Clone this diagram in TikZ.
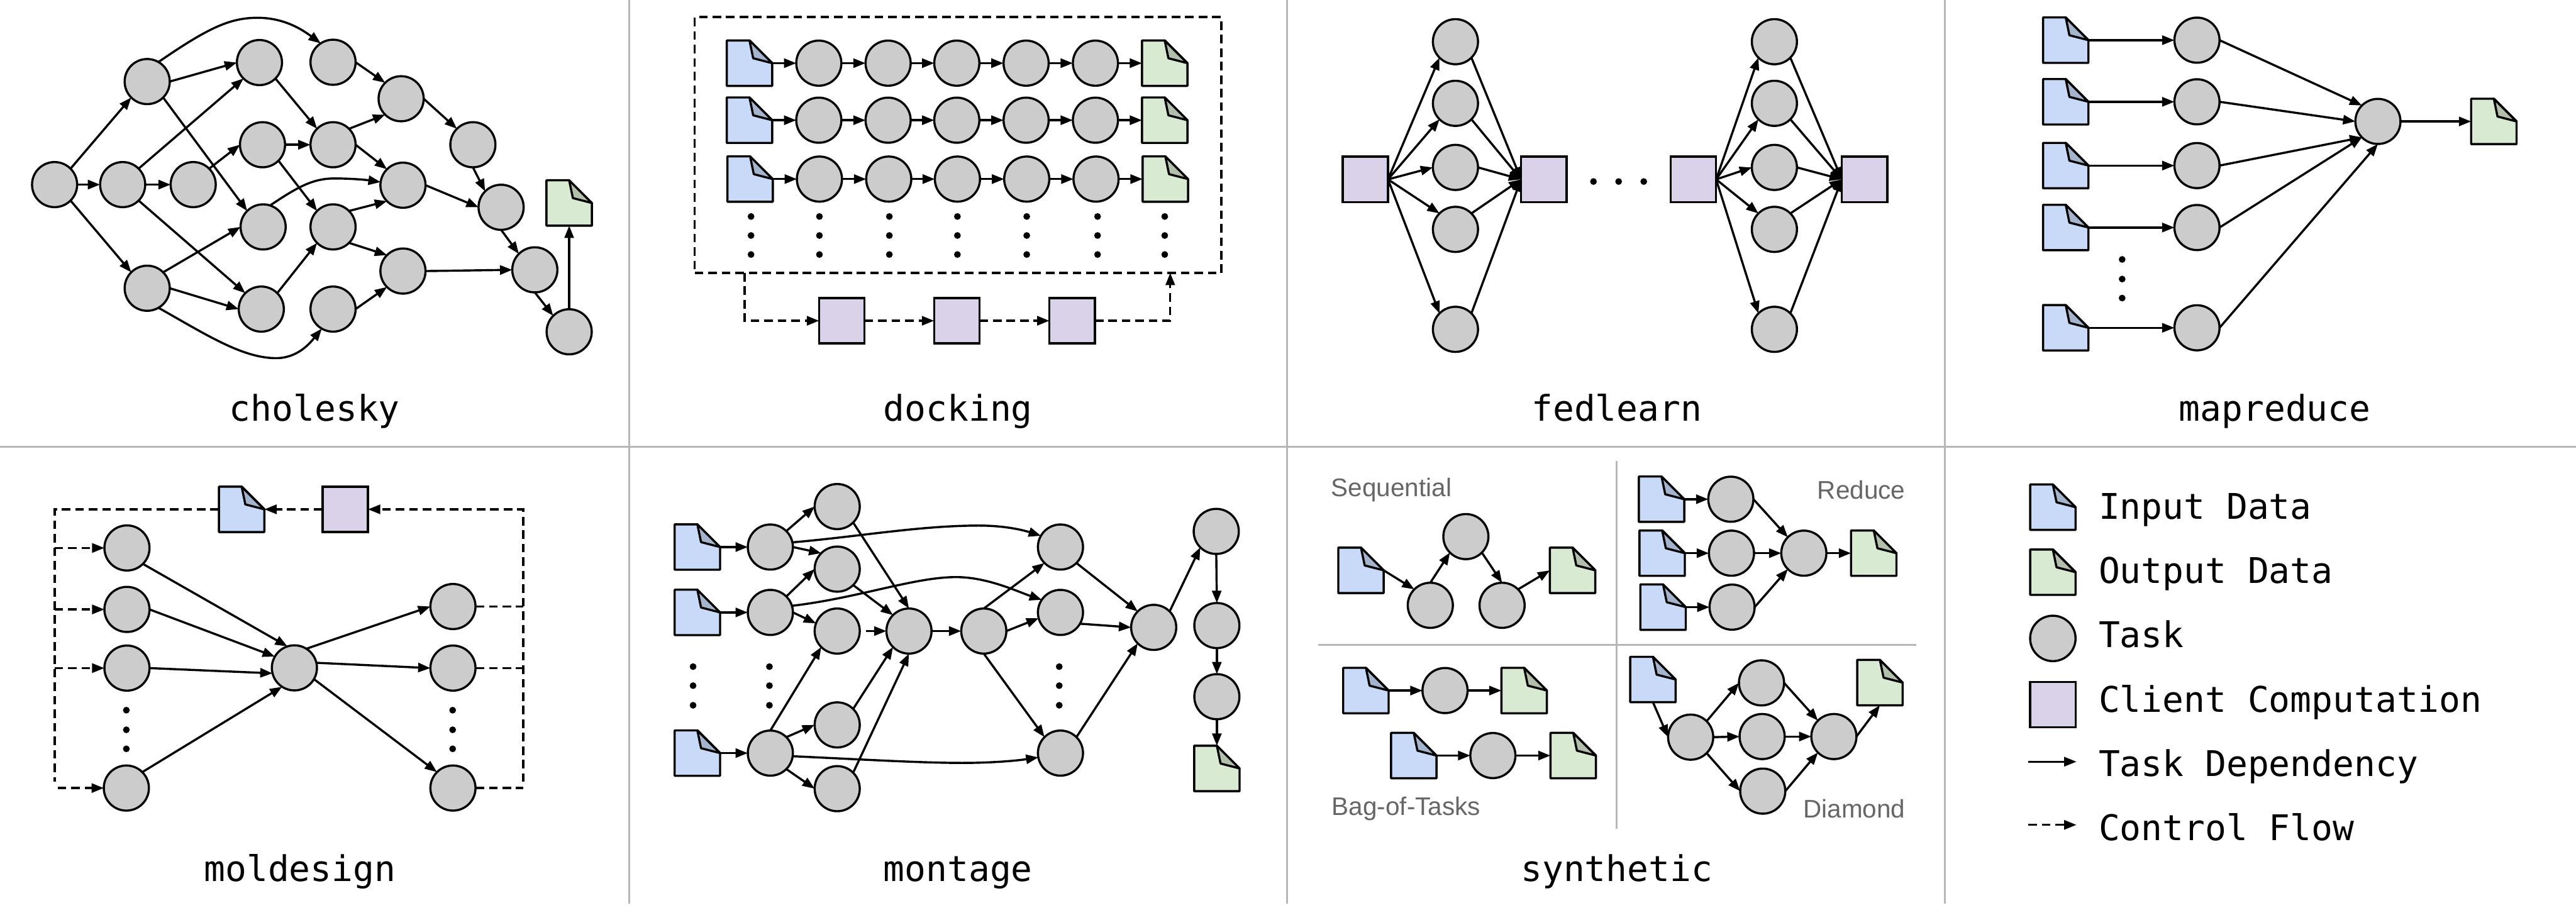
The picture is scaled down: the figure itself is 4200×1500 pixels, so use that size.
\documentclass[tikz,border=0pt]{standalone}
\usepackage{fontspec}
\usetikzlibrary{arrows.meta}
\newfontfamily\monofam{DejaVu Sans Mono}
\newfontfamily\labelfam{Liberation Sans}
\definecolor{inblue}{HTML}{C9DAF8}
\definecolor{infold}{HTML}{A4B4CD}
\definecolor{outgreen}{HTML}{D9EAD3}
\definecolor{outfold}{HTML}{B1BFAB}
\definecolor{taskgrey}{HTML}{CCCCCC}
\definecolor{clientpurple}{HTML}{D9D2E9}
\definecolor{panelgrey}{HTML}{B7B7B7}
\definecolor{labelgrey}{HTML}{666666}
\tikzset{
  task/.style={circle,draw=black,fill=taskgrey,line width=0.035cm,minimum size=0.735cm,inner sep=0pt,outer sep=0pt},
  client/.style={rectangle,draw=black,fill=clientpurple,line width=0.035cm,minimum width=0.74cm,minimum height=0.74cm,inner sep=0pt,outer sep=0pt},
  docbox/.style={rectangle,minimum width=0.74cm,minimum height=0.74cm,inner sep=0pt,outer sep=0pt},
  dep/.style={draw=black,line width=0.035cm,-{Triangle[length=0.2cm,width=0.15cm]}},
  ctlline/.style={draw=black,line width=0.035cm,dash pattern=on 0.14cm off 0.08cm},
  ctl/.style={ctlline,-{Triangle[length=0.2cm,width=0.15cm]}},
  paneltitle/.style={font=\monofam\fontsize{16.4}{18}\selectfont,anchor=base,inner sep=0pt},
  legendtext/.style={font=\monofam\fontsize{16.4}{18}\selectfont,anchor=base west,inner sep=0pt},
  sublabel/.style={font=\labelfam\fontsize{11.8}{13}\selectfont,text=labelgrey,inner sep=0pt},
  panelline/.style={draw=panelgrey,line width=0.03cm},
  wfdot/.style={fill=black}
}
\newcommand\wfdoc[5]{%
  \node[docbox] (#1) at (#2,#3) {};
  \draw[line width=0.035cm,line join=round,fill=#4] (#1.north west) -- (#1.north) -- (#1.east) -- (#1.south east) -- (#1.south west) -- cycle;
  \draw[line width=0.035cm,line join=round,fill=#5] (#1.north) -- ([shift={(6,-8)}]#1.center) -- (#1.east) -- cycle;
}
\newcommand\indoc[3]{\wfdoc{#1}{#2}{#3}{inblue}{infold}}
\newcommand\outdoc[3]{\wfdoc{#1}{#2}{#3}{outgreen}{outfold}}
\begin{document}
\begin{tikzpicture}[x=0.01cm,y=-0.01cm]
\useasboundingbox (0,0) rectangle (4200,1500);
\fill[white] (0,0) rectangle (4200,1500);
% panel rules
\draw[panelline] (0,729) -- (4200,729);
\foreach \x in {1026,2098,3171} \draw[panelline] (\x,0) -- (\x,1473);

% ---------- cholesky
\foreach \n/\x/\y in {c1/89/301,c2/200/301,c3/315/301,ca/240/133,cb/240/470,
  d1/423/102,d2/428/236,d3/429/370,d4/426/504,
  e1/543/101.5,e2/543/236,e3/543/370,e4/543/504,
  f1/654/161,f2/657/302,f3/657/442,g/771/236,h/817/338,i/872/440,j/928/541}
  \node[task] (\n) at (\x,\y) {};
\outdoc{cout}{928}{331}
\foreach \s/\t in {c1.45/ca.225,c1.0/c2.180,c1.-45/cb.135,c2.0/c3.180,c2.45/d1.225,c2.-45/d4.135,
  c3.45/d2.180,ca.0/d1.180,ca.-45/d3.135,cb.0/d4.180,cb.45/d3.180,
  d1.-45/e2.135,d2.0/e2.180,d2.-45/e3.135,d4.45/e3.-135,
  e1.0/f1.135,e2.45/f1.-135,e2.0/f2.135,e3.45/f2.-135,e3.-45/f3.135,e4.0/f3.-135,
  f1.0/g.135,f2.0/h.180,f3.0/i.180,g.-90/h.135,h.-90/i.135,i.-90/j.135,j.90/cout.south}
  \draw[dep] (\s) -- (\t);
\draw[dep] (ca.60) .. controls (340,45) and (375,29) .. (420,29) .. controls (465,29) and (495,50) .. (e1.123);
\draw[dep] (cb.-60) .. controls (335,545) and (395,584) .. (450,584) .. controls (485,584) and (505,560) .. (e4.-120);
\draw[dep] (d3.72) .. controls (485,305) and (510,291) .. (545,291) .. controls (570,291) and (595,293) .. (f2.172);
\node[paneltitle] (tchol) at (513,687) {cholesky};

% ---------- docking
\node[draw=black,ctlline,minimum width=8.58cm,minimum height=4.17cm,inner sep=0pt,outer sep=0pt] (dkframe) at (1562,236.5) {};
\foreach \r/\y/\o in {1/103/0,2/196/0,3/292/1}{
  \indoc{dki\r}{1222+\o}{\y}
  \outdoc{dko\r}{1899+\o}{\y}
  \foreach \c/\x in {1/1335,2/1448,3/1560,4/1673,5/1786}
    \node[task] (dk\r t\c) at (\x+\o,\y) {};
  \draw[dep] (dki\r.east) -- (dk\r t1.west);
  \foreach \a/\b in {1/2,2/3,3/4,4/5} \draw[dep] (dk\r t\a.east) -- (dk\r t\b.west);
  \draw[dep] (dk\r t5.east) -- (dko\r.west);
}
\foreach \x in {1224.5,1336,1450,1561,1674,1789.5,1899} \foreach \y in {353,384,415}
  \fill[wfdot] (\x,\y) circle[radius=5.5];
\node[client] (dkc1) at (1372.5,523) {};
\node[client] (dkc2) at (1560,523) {};
\node[client] (dkc3) at (1748,523) {};
\coordinate (dka) at (1214,445);
\coordinate (dkb) at (1908,445);
\draw[ctl] (dka) |- (dkc1.west);
\draw[ctl] (dkc1.east) -- (dkc2.west);
\draw[ctl] (dkc2.east) -- (dkc3.west);
\draw[ctl] (dkc3.east) -| (dkb);
\node[paneltitle] (tdock) at (1562,686) {docking};

% ---------- fedlearn
\node[client] (fb1) at (2226,292.5) {};
\node[client] (fb2) at (2517,292.5) {};
\node[client] (fb3) at (2761,292.5) {};
\node[client] (fb4) at (3040,292.5) {};
\foreach \n/\y in {1/68,2/168.5,3/273,4/374,5/537}{
  \node[task] (fl\n) at (2373,\y) {};
  \node[task] (fr\n) at (2893,\y) {};
}
\foreach \x in {2598,2639,2680} \fill[wfdot] (\x,296) circle[radius=5.5];
\foreach \p/\q/\r in {fb1/fb2/fl,fb3/fb4/fr}{
  \draw[dep] (\p.east) -- (\r1.-135);
  \draw[dep] (\p.east) -- (\r2.-135);
  \draw[dep] (\p.east) -- (\r3.180);
  \draw[dep] (\p.east) -- (\r4.135);
  \draw[dep] (\p.east) -- (\r5.135);
  \draw[dep] (\r1.-45) -- (\q.west);
  \draw[dep] (\r2.-45) -- (\q.west);
  \draw[dep] (\r3.0) -- (\q.west);
  \draw[dep] (\r4.45) -- (\q.west);
  \draw[dep] (\r5.45) -- (\q.west);
}
\node[paneltitle] (tfed) at (2636,686) {fedlearn};

% ---------- mapreduce
\foreach \n/\y in {1/65.5,2/166,3/270,4/371,5/534.5}{
  \indoc{mi\n}{3368}{\y}
  \node[task] (mt\n) at (3582,\y) {};
  \draw[dep] (mi\n.east) -- (mt\n.west);
}
\node[task] (msink) at (3877,198) {};
\outdoc{mout}{4066}{198}
\foreach \y in {423,455,486} \fill[wfdot] (3460,\y) circle[radius=5.5];
\foreach \s/\t in {mt1.0/msink.135,mt2.0/msink.180,mt3.0/msink.-135,mt4.0/msink.-135,mt5.0/msink.-90,msink.0/mout.west}
  \draw[dep] (\s) -- (\t);
\node[paneltitle] (tmap) at (3709,686) {mapreduce};

% ---------- moldesign
\indoc{ldoc}{394}{830.5}
\node[client] (lbox) at (563,830.5) {};
\foreach \n/\x/\y in {lt1/207/893.5,lt2/207/993.7,lt3/207/1089.4,lt4/206/1285,lc/480/1089,lr1/738.5/989,lr2/738.5/1089.4,lr3/738.5/1285}
  \node[task] (\n) at (\x,\y) {};
\foreach \x in {206,738} \foreach \y in {1158,1190,1221} \fill[wfdot] (\x,\y) circle[radius=5.5];
\coordinate (lbusl) at (89,830.5);
\coordinate (lbusle) at (89,1275);
\coordinate (lbusr) at (853,830.5);
\coordinate (lbusre) at (853,1275);
\coordinate (lstart) at (94,1285);
\draw[ctlline] (ldoc.west) -- (lbusl) -- (lbusle);
\draw[ctl] (lbusre) -- (lbusr) -- (lbox.east);
\draw[ctl] (lbox.west) -- (ldoc.east);
\foreach \n in {lt1,lt2,lt3} \draw[ctl] (lbusl |- \n.west) -- (\n.west);
\draw[ctl] (lstart) -- (lt4.west);
\foreach \n in {lr1,lr2,lr3} \draw[ctlline] (\n.east) -- (lbusr |- \n.east);
\foreach \s/\t in {lt1.-45/lc.108,lt2.0/lc.150,lt3.0/lc.194,lt4.45/lc.237,lc.58/lr1.180,lc.13/lr2.180,lc.-30/lr3.135}
  \draw[dep] (\s) -- (\t);
\node[paneltitle] (tmol) at (489,1437) {moldesign};

% ---------- montage
\foreach \n/\y in {a/892,b/998.6,c/1228}{
  \indoc{oi\n}{1137}{\y}
  \node[task] (o2\n) at (1256,\y) {};
  \node[task] (o5\n) at (1729,\y) {};
  \draw[dep] (oi\n.east) -- (o2\n.west);
}
\foreach \n/\y in {a/826,b/928,c/1029,d/1182,e/1286} \node[task] (o3\n) at (1365,\y) {};
\node[task] (omid) at (1482,1029) {};
\node[task] (onext) at (1604,1029) {};
\node[task] (ofin) at (1881,1023) {};
\node[task] (o7a) at (1983,866.5) {};
\node[task] (o7b) at (1984,1020) {};
\node[task] (o7c) at (1984,1136) {};
\outdoc{oout}{1984}{1253}
\foreach \x in {1130,1254.5,1727} \foreach \y in {1087,1118,1150} \fill[wfdot] (\x,\y) circle[radius=5.5];
\coordinate (ostub) at (1412,1029);
\draw[dep] (ostub) -- (omid.west);
\foreach \s/\t in {o2a.45/o3a.180,o2a.0/o3b.135,o2b.45/o3b.180,o2b.0/o3c.160,o2c.90/o3c.-135,o2c.45/o3d.180,o2c.-45/o3e.180,
  o3a.-45/omid.90,o3b.-45/omid.135,o3d.45/omid.-135,o3e.45/omid.-90,omid.0/onext.180,
  onext.90/o5a.-135,onext.0/o5b.195,onext.-90/o5c.135,
  o5a.-45/ofin.135,o5b.-30/ofin.180,o5c.45/ofin.-135,ofin.45/o7a.-135,o7a.-90/o7b.90,o7b.-90/o7c.90,o7c.-90/oout.north}
  \draw[dep] (\s) -- (\t);
\draw[dep] (o2a.12) .. controls (1400,875) and (1500,857) .. (1596,857) .. controls (1640,857) and (1670,865) .. (o5a.150);
\draw[dep] (o2b.17) .. controls (1400,975) and (1490,941) .. (1559,941) .. controls (1610,941) and (1660,965) .. (o5b.146);
\draw[dep] (o2c.-8) .. controls (1400,1238) and (1500,1244) .. (1569,1244) .. controls (1620,1244) and (1660,1240) .. (o5c.191);
\node[paneltitle] (tmon) at (1562,1437) {montage};

% ---------- synthetic
\draw[panelline] (2636,752) -- (2636,1351);
\draw[panelline] (2149,1052) -- (3124,1052);
\node[sublabel,anchor=west] (lseq) at (2170,799) {Sequential};
\node[sublabel,anchor=east] (lred) at (3107,799) {Reduce};
\node[sublabel,anchor=west] (lbag) at (2171,1319) {Bag-of-Tasks};
\node[sublabel,anchor=east] (ldia) at (3107,1319) {Diamond};
% sequential
\indoc{sqi}{2219}{930}
\node[task] (sq1) at (2332,987) {};
\node[task] (sq2) at (2390,875) {};
\node[task] (sq3) at (2449,987) {};
\outdoc{sqo}{2564}{930}
\foreach \s/\t in {sqi.east/sq1.135,sq1.90/sq2.-135,sq2.-45/sq3.90,sq3.45/sqo.west} \draw[dep] (\s) -- (\t);
% reduce
\indoc{rdi1}{2709}{814}
\indoc{rdi2}{2710}{902}
\indoc{rdi3}{2711.5}{990}
\node[task] (rd1) at (2822,814) {};
\node[task] (rd2) at (2823,902) {};
\node[task] (rd3) at (2824,990) {};
\node[task] (rds) at (2941,902) {};
\outdoc{rdo}{3055}{902}
\foreach \s/\t in {rdi1.east/rd1.west,rdi2.east/rd2.west,rdi3.east/rd3.west,rd1.0/rds.135,rd2.0/rds.180,rd3.0/rds.-135,rds.0/rdo.west}
  \draw[dep] (\s) -- (\t);
% bag of tasks
\indoc{bgi1}{2227}{1126}
\node[task] (bg1) at (2356,1126) {};
\outdoc{bgo1}{2485}{1126}
\indoc{bgi2}{2305}{1232}
\node[task] (bg2) at (2434,1232) {};
\outdoc{bgo2}{2565}{1232}
\foreach \s/\t in {bgi1.east/bg1.west,bg1.east/bgo1.west,bgi2.east/bg2.west,bg2.east/bgo2.west}
  \draw[dep] (\s) -- (\t);
% diamond
\indoc{dmi}{2695}{1108}
\node[task] (dm1) at (2756.5,1202) {};
\node[task] (dm2) at (2872,1113.5) {};
\node[task] (dm3) at (2873,1201) {};
\node[task] (dm4) at (2874,1290) {};
\node[task] (dm5) at (2990,1201) {};
\outdoc{dmo}{3065}{1113}
\foreach \s/\t in {dmi.south/dm1.west,dm1.45/dm2.180,dm1.0/dm3.180,dm1.-45/dm4.180,dm2.0/dm5.135,dm3.0/dm5.180,dm4.0/dm5.-135,dm5.0/dmo.south}
  \draw[dep] (\s) -- (\t);
\node[paneltitle] (tsyn) at (2636,1437) {synthetic};

% ---------- legend
\indoc{kin}{3347}{827}
\outdoc{kout}{3347}{933}
\node[task,minimum size=0.74cm] (ktask) at (3347,1041) {};
\node[client] (kcl) at (3347,1149) {};
\coordinate (kda) at (3307,1242);
\coordinate (kdb) at (3385.5,1242);
\coordinate (kca) at (3307,1345);
\coordinate (kcb) at (3385.5,1345);
\draw[dep] (kda) -- (kdb);
\draw[ctl] (kca) -- (kcb);
\node[legendtext] (kt1) at (3421,846) {Input Data};
\node[legendtext] (kt2) at (3421,951) {Output Data};
\node[legendtext] (kt3) at (3421,1056) {Task};
\node[legendtext] (kt4) at (3421,1161) {Client Computation};
\node[legendtext] (kt5) at (3421,1266) {Task Dependency};
\node[legendtext] (kt6) at (3421,1370) {Control Flow};
\end{tikzpicture}
\end{document}
